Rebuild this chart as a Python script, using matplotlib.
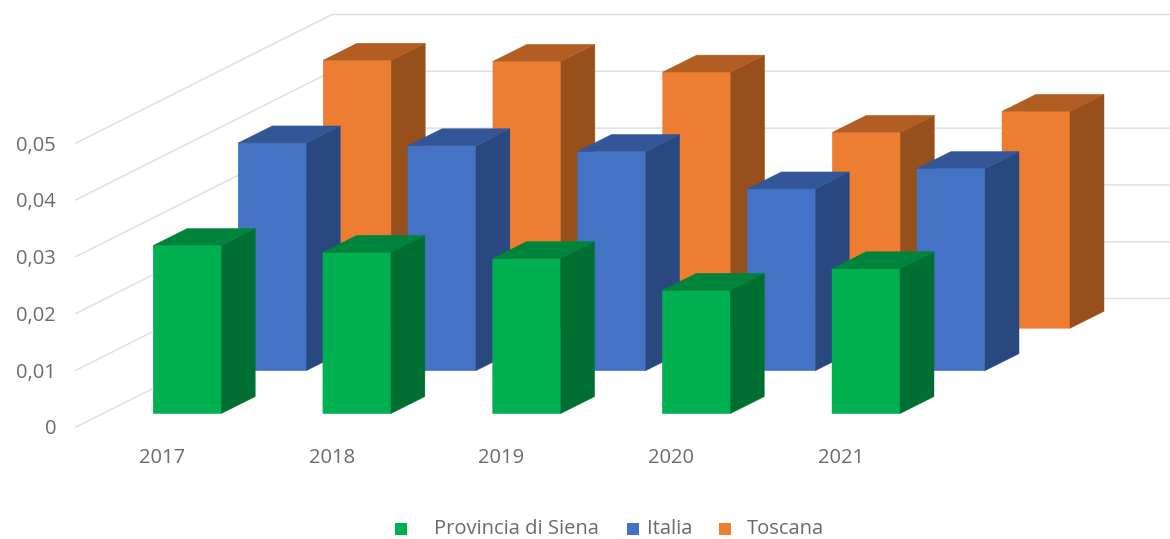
import matplotlib
matplotlib.use("Agg")
import matplotlib.pyplot as plt
from matplotlib.patches import Rectangle

plt.rcParams['font.family'] = ['Open Sans', 'DejaVu Sans']

years = ['2017', '2018', '2019', '2020', '2021']
y_ticks = [0, 0.01, 0.02, 0.03, 0.04, 0.05]
y_labels = ['0', '0,01', '0,02', '0,03', '0,04', '0,05']
siena = [0.0296, 0.0284, 0.0273, 0.0217, 0.0255]
italia = [0.0401, 0.0396, 0.0386, 0.0320, 0.0356]
toscana = [0.0472, 0.0470, 0.0451, 0.0345, 0.0382]

W, H = 1170, 539
PX_X = 169.7    # pixels per category
PX_Y = 5680.0   # pixels per unit of value
X0, Y0 = 153.2, 413.6   # pixel of category 0 / value 0 for the front series
dx = lambda p: p / PX_X
dy = lambda p: p / PX_Y

fig = plt.figure(figsize=(W / 100, H / 100), dpi=100)
ax = fig.add_axes([0, 0, 1, 1])
ax.set_xlim(-X0 / PX_X, (W - X0) / PX_X)
ax.set_ylim(-(H - Y0) / PX_Y, Y0 / PX_Y)
ax.axis('off')

GRID = '#e0e0e0'
TXT = '#6b6b6b'
# walls
wall_x0, wall_y0 = dx(76 - X0), dy(Y0 - 427)
wall_dx, wall_dy = dx(256), dy(128.5)
wall_end = dx(W - X0)
for v in y_ticks:
    xs = [wall_x0, wall_x0 + wall_dx, wall_end]
    ys = [wall_y0 + v, wall_y0 + wall_dy + v, wall_y0 + wall_dy + v]
    ax.plot(xs, ys, color=GRID, lw=1.1, solid_joinstyle='miter', zorder=1)

BAR_W = dx(68)
SIDE_X, SIDE_Y = dx(34), dy(17)
series = [
    (toscana, 'Toscana', dx(170), dy(85.3), '#ED7D31', '#974F1C', '#B25E22', 2),
    (italia, 'Italia', dx(85), dy(42.9), '#4472C4', '#2A4880', '#325698', 3),
    (siena, 'Provincia di Siena', 0, 0, '#00B050', '#007032', '#00843C', 4),
]
for vals, name, ox, oy, front, side, top, z in series:
    for i, v in enumerate(vals):
        l = i + ox
        r = l + BAR_W
        ax.bar(l, v, width=BAR_W, bottom=oy, align='edge', color=front,
               edgecolor=front, lw=0.3, zorder=z, snap=False)
        ax.fill([r, r + SIDE_X, r + SIDE_X, r],
                [oy, oy + SIDE_Y, oy + v + SIDE_Y, oy + v],
                color=side, lw=0.3, zorder=z, snap=False)
        ax.fill([l, l + SIDE_X, r + SIDE_X, r],
                [oy + v, oy + v + SIDE_Y, oy + v + SIDE_Y, oy + v],
                color=top, lw=0.3, zorder=z, snap=False)

FS = 14.5
for v, lab in zip(y_ticks, y_labels):
    ax.text(dx(56 - X0), wall_y0 + v, lab, ha='right', va='center_baseline',
            fontsize=FS, color=TXT)
for i, y in enumerate(years):
    ax.text(i + dx(162 - X0), dy(Y0 - 455.5), y, ha='center', va='center_baseline',
            fontsize=FS, color=TXT)

# legend
legend_items = [('Provincia di Siena', 395, 434, '#00B050'),
                ('Italia', 627, 647, '#4472C4'),
                ('Toscana', 719, 747, '#ED7D31')]
for name, sx, tx, col in legend_items:
    ax.add_patch(Rectangle((dx(sx - X0), dy(Y0 - 535)), dx(12), dy(12),
                           facecolor=col, edgecolor='none', zorder=5))
    ax.text(dx(tx - X0), dy(Y0 - 526.5), name, ha='left', va='center_baseline',
            fontsize=FS, color=TXT)

fig.savefig('out.png', dpi=100)
